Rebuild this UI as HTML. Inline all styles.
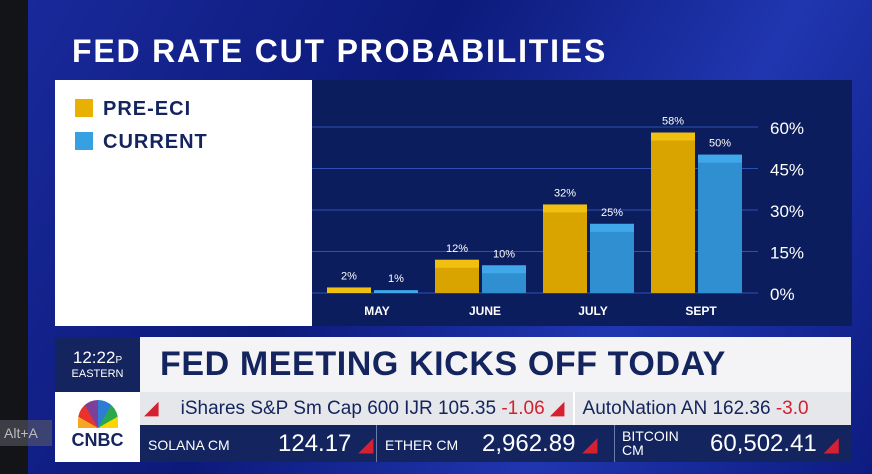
<!DOCTYPE html>
<html><head><meta charset="utf-8"><style>
body{margin:0;width:872px;height:474px;overflow:hidden;background:#0d1f8a;font-family:"Liberation Sans",sans-serif;position:relative}
.abs{position:absolute}
</style></head><body>
<div class="abs" style="left:0;top:0;width:872px;height:474px;background:linear-gradient(120deg,#1a2a9c 0%,#0c1a7a 40%,#2036b0 70%,#0d1c80 100%)"></div>
<div class="abs" style="left:0;top:0;width:28px;height:474px;background:#121418"></div>
<div class="abs" style="left:72px;top:33px;color:#fff;font-weight:bold;font-size:32px;letter-spacing:1.8px">FED RATE CUT PROBABILITIES</div>
<div class="abs" style="left:55px;top:80px;width:257px;height:246px;background:#fff">
 <div style="position:absolute;left:20px;top:18px;font-weight:bold;font-size:20px;color:#14245e;letter-spacing:1px"><span style="display:inline-block;width:18px;height:18px;background:#e8b000;vertical-align:-2px;margin-right:10px"></span>PRE-ECI</div>
 <div style="position:absolute;left:20px;top:51px;font-weight:bold;font-size:20px;color:#14245e;letter-spacing:1px"><span style="display:inline-block;width:18px;height:18px;background:#37a0e0;vertical-align:-2px;margin-right:10px"></span>CURRENT</div>
</div>
<svg class="abs" style="left:312px;top:80px" width="540" height="246" id="chart"></svg>
<div class="abs" style="left:55px;top:337px;width:85px;height:55px;background:#13245e;color:#fff;text-align:center">
 <div style="font-size:17px;margin-top:11px">12:22<span style="font-size:10px">P</span></div><div style="font-size:11px">EASTERN</div></div>
<div class="abs" style="left:140px;top:337px;width:711px;height:55px;background:#f4f4f6;color:#13245e;font-weight:bold;font-size:34px;line-height:55px;padding-left:20px;box-sizing:border-box;letter-spacing:0.6px">FED MEETING KICKS OFF TODAY</div>
<div class="abs" style="left:140px;top:392px;width:711px;height:33px;background:#e6e7ea;color:#13245e;font-size:19px;line-height:34px;white-space:nowrap;overflow:hidden">
 <span style="color:#d42030;margin-left:4px">◢</span><span style="margin-left:22px">iShares S&amp;P Sm Cap 600 IJR 105.35 <span style="color:#d42030">-1.06 ◢</span></span><span style="display:inline-block;width:2px;height:33px;background:#fff;vertical-align:top;margin:0 8px"></span>AutoNation AN 162.36 <span style="color:#d42030">-3.0</span></div>
<div class="abs" style="left:55px;top:392px;width:85px;height:70px;background:#fff;text-align:center">
 <div style="margin:8px auto 0;width:40px;height:28px;background:conic-gradient(from 270deg at 50% 100%,#f5a623 0 30deg,#e8322b 30deg 60deg,#7d3f98 60deg 90deg,#2c7dd3 90deg 120deg,#2aa84a 120deg 150deg,#fcd600 150deg 180deg,transparent 180deg);border-radius:20px 20px 0 0"></div>
 <div style="font-weight:bold;font-size:18px;color:#13245e;margin-top:2px">CNBC</div></div>
<div class="abs" style="left:140px;top:425px;width:711px;height:37px;background:#13245e;color:#fff;white-space:nowrap">
 <div class="abs" style="left:8px;top:12px;font-size:14px">SOLANA CM</div>
 <div class="abs" style="left:138px;top:5px;font-size:24px">124.17 <span style="color:#d42030;font-size:20px">◢</span></div>
 <div class="abs" style="left:236px;top:0;width:1px;height:37px;background:#6c7aa8"></div>
 <div class="abs" style="left:245px;top:12px;font-size:14px">ETHER CM</div>
 <div class="abs" style="left:342px;top:5px;font-size:24px">2,962.89 <span style="color:#d42030;font-size:20px">◢</span></div>
 <div class="abs" style="left:474px;top:0;width:1px;height:37px;background:#6c7aa8"></div>
 <div class="abs" style="left:482px;top:4px;font-size:14px;line-height:14px">BITCOIN<br>CM</div>
 <div class="abs" style="left:570px;top:5px;font-size:24px">60,502.41 <span style="color:#d42030;font-size:20px">◢</span></div>
</div>
<div class="abs" style="left:0;top:420px;width:48px;height:26px;background:rgba(90,90,100,0.6);color:#bbb;font-size:14px;line-height:26px;padding-left:4px">Alt+A</div>
<script>
const categories=["MAY","JUNE","JULY","SEPT"];
const preEci=[2,12,32,58];
const current=[1,10,25,50];
const ticks=[0,15,30,45,60];
const svg=document.getElementById('chart');
const NS='http://www.w3.org/2000/svg';
function y(v){return 213-v*(166/60);}
function gx(i){return 15+i*108;}
function mk(t,a,p){const e=document.createElementNS(NS,t);for(const k in a)e.setAttribute(k,a[k]);(p||svg).appendChild(e);return e;}
const bg=mk('rect',{x:0,y:0,width:540,height:246,fill:'#0b1d5c'});


ticks.forEach(t=>{
 const l=mk('line',{x1:0,x2:446,y1:y(t),y2:y(t),stroke:'#2e50b4','stroke-width':1});
 
 
 const tx=mk('text',{x:458,y:y(t)+7,fill:'#fff','font-size':17,'font-family':'Liberation Sans'});
 tx.textContent=t+'%';
 
 
});
function bar(x,v,c1,c2,name){
 const h=213-y(v);
 const r=mk('rect',{x:x,y:y(v),width:44,height:h,fill:c1});
 
 
 mk('rect',{x:x,y:y(v),width:44,height:Math.min(8,h),fill:c2});
 const t=mk('text',{x:x+22,y:y(v)-8,fill:'#fff','font-size':11,'text-anchor':'middle','font-family':'Liberation Sans'});
 t.textContent=v+'%';
 
 
}
categories.forEach((c,i)=>{
 bar(gx(i),preEci[i],'#d9a400','#f0bf10','bar-pre-eci-'+c.toLowerCase());
 bar(gx(i)+47,current[i],'#2f8fd0','#40a8ea','bar-current-'+c.toLowerCase());
 const t=mk('text',{x:gx(i)+50,y:235,fill:'#fff','font-size':12,'font-weight':'bold','text-anchor':'middle','font-family':'Liberation Sans'});
 t.textContent=c;
 
 
});
</script>
</body></html>
